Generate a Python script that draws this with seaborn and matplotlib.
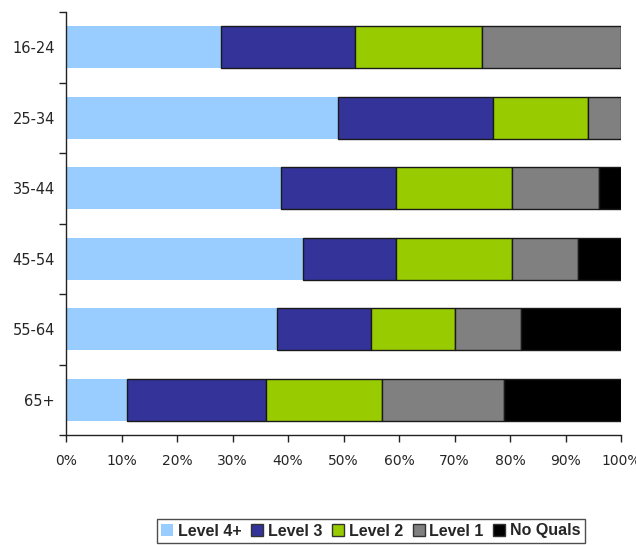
import numpy as np
import pandas as pd
import matplotlib
matplotlib.use('Agg')
import matplotlib.pyplot as plt
import seaborn as sns
from matplotlib.patches import Patch

# age groups and share (%) of each qualification level
ages = ['16-24', '25-34', '35-44', '45-54', '55-64', '65+']
levels = ['Level 4+', 'Level 3', 'Level 2', 'Level 1', 'No Quals']
level4 = [28, 49, 38.7, 42.7, 38, 11]
level3 = [24, 28, 20.8, 16.8, 17, 25]
level2 = [23, 17, 20.8, 20.8, 15, 21]
level1 = [25, 6, 15.7, 11.9, 12, 22]
noquals = [0, 0, 4, 7.8, 18, 21]
colors = ['#99ccff', '#333399', '#99cc00', '#808080', '#000000']

df = pd.DataFrame({'Age': ages, 'Level 4+': level4, 'Level 3': level3,
                   'Level 2': level2, 'Level 1': level1, 'No Quals': noquals})
starts = df[levels].cumsum(axis=1) - df[levels]

sns.set_style('white')
fig = plt.figure(figsize=(6.36, 5.45), dpi=100)
ax = fig.add_axes([66 / 636, 1 - 435 / 545, 555 / 636, 423 / 545])

# stacked bars: draw each segment, then move it to its start
for lvl, col in zip(levels, colors):
    edge = 'none' if lvl == 'Level 4+' else '#1a1a1a'
    n_before = len(ax.patches)
    sns.barplot(x=df[lvl], y=df['Age'], color=col, orient='h', width=0.6,
                edgecolor=edge, linewidth=1.0, ax=ax, saturation=1)
    for p, left in zip(ax.patches[n_before:], starts[lvl]):
        p.set_x(left)
        if p.get_width() == 0:
            p.set_visible(False)

ax.set_xlim(0, 100)
ax.set_ylim(5.5, -0.5)
ax.set_xticks(np.arange(0, 101, 10))
ax.set_xticklabels([f'{v}%' for v in range(0, 101, 10)], fontsize=10)
ax.set_yticks(range(len(ages)))
ax.set_yticklabels(ages, fontsize=10.5)
ax.tick_params(axis='y', which='major', left=False, length=0, pad=8)
ax.set_yticks(np.arange(-0.5, 6, 1), minor=True)
ax.tick_params(axis='y', which='minor', left=True, length=5, width=1,
               direction='out', color='#222222')
ax.tick_params(axis='x', bottom=True, length=5, width=1, direction='out',
               color='#222222', pad=9)
ax.set_xlabel('')
ax.set_ylabel('')
for s in ['top', 'right']:
    ax.spines[s].set_visible(False)
for s in ['left', 'bottom']:
    ax.spines[s].set_color('#222222')
    ax.spines[s].set_linewidth(1.0)

handles = [Patch(facecolor=c, edgecolor='none' if i == 0 else '#333333', label=l)
           for i, (l, c) in enumerate(zip(levels, colors))]
leg = fig.legend(handles=handles, loc='center', bbox_to_anchor=(371 / 636, 1 - 531 / 545),
                 ncol=5, frameon=True, fancybox=False, handlelength=0.75, handleheight=0.75,
                 handletextpad=0.3, columnspacing=0.6, borderpad=0.3,
                 prop={'family': 'Liberation Sans', 'weight': 'bold', 'size': 11.5})
leg.get_frame().set_edgecolor('#222222')
leg.get_frame().set_linewidth(1.0)

fig.savefig('out.png', dpi=100)
